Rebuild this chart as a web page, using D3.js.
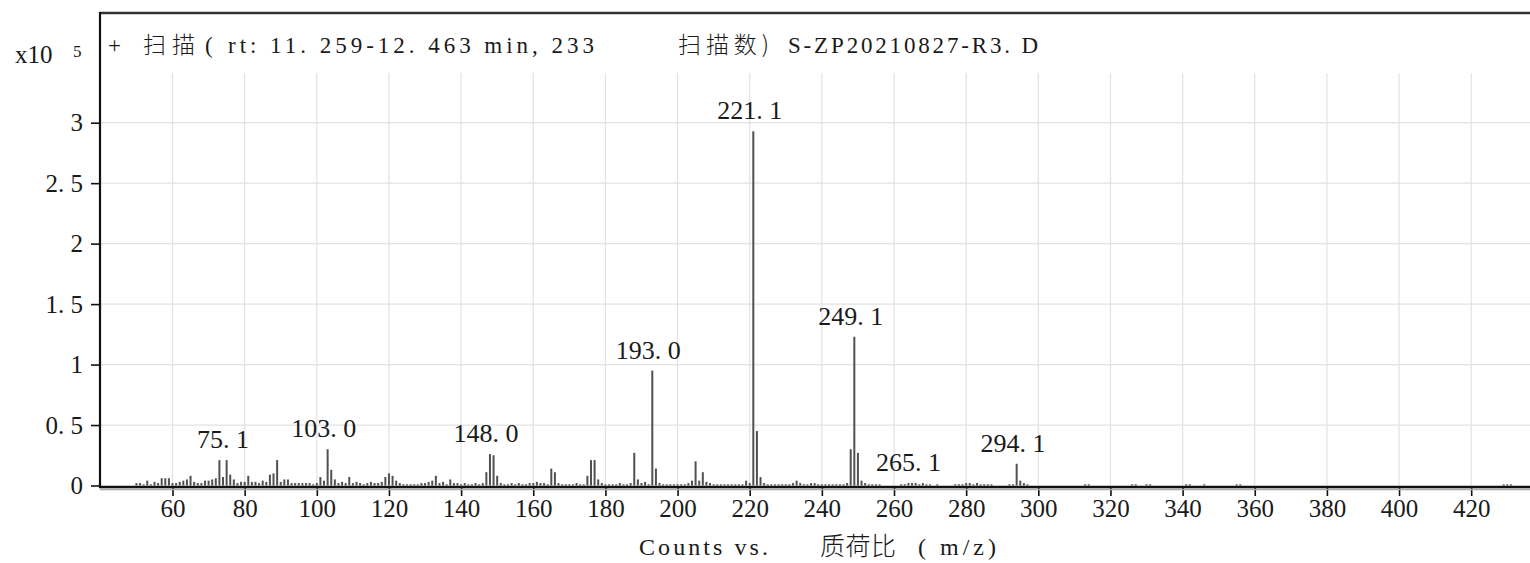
<!DOCTYPE html>
<html>
<head>
<meta charset="utf-8">
<script src="https://cdn.jsdelivr.net/npm/d3@7"></script>
<style>
  body { margin: 0; background: #fff; }
  svg { display: block; }
  .serif { font-family: 'Liberation Serif', 'DejaVu Serif', serif; fill: #1a1a1a; }
  .cjk { font-family: 'Noto Sans CJK SC', sans-serif; font-weight: 300; fill: #1a1a1a; }
</style>
</head>
<body>
<div id="ms-chart"></div>
<script>
'use strict';

// m/z, counts (x10^5)
const spectrum = [
  [50, .02], [51, .02], [52, .01], [53, .04], [54, .01], [55, .03], [56, .02], [57, .06], [58, .06], [59, .06],
  [60, .02], [61, .02], [62, .03], [63, .04], [64, .05], [65, .08], [66, .03], [67, .02], [68, .02], [69, .04],
  [70, .04], [71, .05], [72, .06], [73, .21], [74, .07], [75, .21], [76, .09], [77, .05], [78, .02], [79, .03],
  [80, .03], [81, .08], [82, .03], [83, .03], [84, .02], [85, .04], [86, .03], [87, .09], [88, .10], [89, .21],
  [90, .03], [91, .05], [92, .05], [93, .02], [94, .02], [95, .02], [96, .02], [97, .02], [98, .02], [99, .01],
  [100, .02], [101, .07], [102, .04], [103, .30], [104, .13], [105, .05], [106, .02], [107, .03], [108, .02], [109, .07],
  [110, .02], [111, .03], [112, .02], [113, .01], [114, .02], [115, .03], [116, .02], [117, .02], [118, .03], [119, .07],
  [120, .10], [121, .08], [122, .04], [123, .02], [124, .01], [125, .01], [126, .01], [127, .01], [128, .01], [129, .02],
  [130, .02], [131, .03], [132, .04], [133, .08], [134, .02], [135, .03], [136, .01], [137, .05], [138, .02], [139, .02],
  [140, .01], [141, .02], [142, .01], [143, .01], [144, .02], [145, .01], [146, .02], [147, .11], [148, .26], [149, .25],
  [150, .08], [151, .02], [152, .01], [153, .01], [154, .02], [155, .01], [156, .02], [157, .01], [158, .01], [159, .02],
  [160, .02], [161, .03], [162, .02], [163, .02], [164, .01], [165, .14], [166, .11], [167, .02], [168, .01], [169, .01],
  [170, .01], [171, .01], [172, .02], [173, .01], [174, .01], [175, .08], [176, .21], [177, .21], [178, .05], [179, .02],
  [180, .01], [181, .01], [182, .01], [183, .01], [184, .02], [185, .01], [186, .01], [187, .02], [188, .27], [189, .05],
  [190, .02], [191, .03], [192, .01], [193, .95], [194, .14], [195, .02], [196, .01], [197, .01], [198, .01], [199, .01],
  [200, .01], [201, .01], [202, .01], [203, .02], [204, .04], [205, .20], [206, .04], [207, .11], [208, .03], [209, .02],
  [210, .01], [211, .01], [212, .01], [213, .01], [214, .01], [215, .01], [216, .01], [217, .01], [218, .01], [219, .04],
  [220, .02], [221, 2.93], [222, .45], [223, .07], [224, .02], [225, .01], [226, .01], [227, .01], [228, .01], [229, .01],
  [230, .01], [231, .01], [232, .02], [233, .04], [234, .02], [235, .01], [236, .01], [237, .02], [238, .02], [239, .01],
  [240, .01], [241, .01], [242, .01], [243, .01], [244, .01], [245, .01], [246, .01], [247, .02], [248, .30], [249, 1.23],
  [250, .27], [251, .04], [252, .02], [253, .01], [254, .01], [255, .01], [256, .01],
  [262, .01], [263, .01], [264, .02], [265, .02], [266, .02], [267, .01], [268, .02], [269, .01], [270, .01], [272, .01],
  [277, .01], [278, .01], [279, .01], [280, .02], [281, .02], [282, .01], [283, .02], [284, .01], [285, .01], [286, .01],
  [287, .01], [292, .01], [293, .01], [294, .18], [295, .04], [296, .02], [297, .01],
  [313, .01], [314, .01], [326, .01], [327, .01], [330, .01], [331, .01], [341, .01], [342, .01], [346, .01],
  [355, .01], [356, .01], [429, .01], [430, .01], [431, .01]
];

const labelMz = [75.1, 103.0, 148.0, 193.0, 221.1, 249.1, 265.1, 294.1];
const xTicks = [60, 80, 100, 120, 140, 160, 180, 200, 220, 240, 260, 280, 300, 320, 340, 360, 380, 400, 420];
const yTicks = [0, 0.5, 1, 1.5, 2, 2.5, 3];

// SimSun style decimals: "2. 5"
const dotFmt = s => String(s).replace('.', '. ');

class SpectrumVis {
  constructor (svgWidth, svgHeight) {
    this.svgWidth = svgWidth;
    this.svgHeight = svgHeight;
    this.left = 100;
    this.top = 13;
    this.baseY = 485.5;
    this.initSvg();
  }

  initSvg() {
    this.svg = d3.select('#ms-chart')
                 .append('svg')
                   .attr('width', this.svgWidth)
                   .attr('height', this.svgHeight);
    this.x = d3.scaleLinear().domain([39.9, 436.3]).range([this.left, this.svgWidth]);
    this.y = d3.scaleLinear().domain([0, 3.907]).range([this.baseY, this.top]);
  }

  drawGrid() {
    const g = this.svg.append('g').attr('class', 'grid');
    g.selectAll('line.vgrid')
      .data(xTicks)
      .enter()
      .append('line')
        .attr('x1', d => this.x(d)).attr('x2', d => this.x(d))
        .attr('y1', 73).attr('y2', this.baseY)
        .attr('stroke', '#e2e2e2').attr('stroke-width', 1.2);
    g.selectAll('line.hgrid')
      .data(yTicks.filter(d => d > 0))
      .enter()
      .append('line')
        .attr('x1', this.left).attr('x2', this.svgWidth)
        .attr('y1', d => this.y(d)).attr('y2', d => this.y(d))
        .attr('stroke', '#e2e2e2').attr('stroke-width', 1.2);
  }

  drawPeaks() {
    this.svg.append('g')
      .selectAll('line')
      .data(spectrum)
      .enter()
      .append('line')
        .attr('x1', d => this.x(d[0])).attr('x2', d => this.x(d[0]))
        .attr('y1', this.y(0)).attr('y2', d => this.y(d[1]))
        .attr('stroke', '#505050').attr('stroke-width', 2);
  }

  drawAxes() {
    const xAxis = this.svg.append('g')
      .attr('transform', `translate(0, 487)`)
      .call(d3.axisBottom(this.x).tickValues(xTicks).tickSize(9).tickPadding(3).tickFormat(d => d));
    xAxis.select('.domain').remove();
    xAxis.selectAll('.tick line').attr('stroke', '#111').attr('stroke-width', 1.6);
    xAxis.selectAll('.tick text').attr('class', 'serif').attr('font-size', 25).attr('fill', '#1a1a1a');

    const yAxis = this.svg.append('g')
      .attr('transform', `translate(${this.left}, 0)`)
      .call(d3.axisLeft(this.y).tickValues(yTicks).tickSize(9).tickPadding(8).tickFormat(dotFmt));
    yAxis.select('.domain').remove();
    yAxis.selectAll('.tick line').attr('stroke', '#111').attr('stroke-width', 1.6);
    yAxis.selectAll('.tick text').attr('class', 'serif').attr('font-size', 25).attr('fill', '#1a1a1a');

    // frame: top, left, bottom axis with its grey shadow
    this.svg.append('line')
      .attr('x1', this.left).attr('x2', this.svgWidth).attr('y1', 13).attr('y2', 13)
      .attr('stroke', '#333').attr('stroke-width', 2.5);
    this.svg.append('line')
      .attr('x1', this.left).attr('x2', this.left).attr('y1', 12).attr('y2', 488)
      .attr('stroke', '#111').attr('stroke-width', 2.2);
    this.svg.append('line')
      .attr('x1', this.left).attr('x2', this.svgWidth).attr('y1', 489.5).attr('y2', 489.5)
      .attr('stroke', '#aaa').attr('stroke-width', 1.5);
    this.svg.append('line')
      .attr('x1', this.left - 1).attr('x2', this.svgWidth).attr('y1', 487).attr('y2', 487)
      .attr('stroke', '#111').attr('stroke-width', 2.5);
  }

  drawLabels() {
    const lookup = new Map(spectrum);
    this.svg.append('g')
      .selectAll('text')
      .data(labelMz)
      .enter()
      .append('text')
        .attr('class', 'serif')
        .attr('font-size', 26)
        .attr('text-anchor', 'middle')
        .attr('x', d => this.x(d) - 4)
        .attr('y', d => this.y(lookup.get(Math.floor(d))) - 12)
        .text(d => dotFmt(d3.format('.1f')(d)));
  }

  drawTexts() {
    const add = (cls, size, x, y, str, len) => {
      const t = this.svg.append('text')
        .attr('class', cls).attr('font-size', size)
        .attr('x', x).attr('y', y).text(str);
      if (len) { t.attr('textLength', len).attr('lengthAdjust', 'spacing'); }
      return t;
    };
    // exponent
    add('serif', 25, 15, 63, 'x10');
    add('serif', 17, 73, 57, '5');
    // title
    add('serif', 23, 108, 53, '+');
    add('cjk', 23, 143, 53, '扫描', 52);
    add('serif', 23, 205, 53, '(');
    add('serif', 23, 228, 53, 'rt: ' + dotFmt('11.259') + '-' + dotFmt('12.463') + ' min, 233', 366);
    add('cjk', 23, 678, 53, '扫描数)', 91);
    add('serif', 23, 788, 53, 'S-ZP20210827-' + dotFmt('R3.D'), 250);
    // x axis title
    add('serif', 24, 639, 555, 'Counts vs.', 129);
    add('cjk', 25, 820, 555, '质荷比', 76);
    add('serif', 24, 918, 555, '( m/z)', 78);
  }
}

let vis = new SpectrumVis(1530, 563);
vis.drawGrid();
vis.drawPeaks();
vis.drawAxes();
vis.drawLabels();
vis.drawTexts();
</script>
</body>
</html>
